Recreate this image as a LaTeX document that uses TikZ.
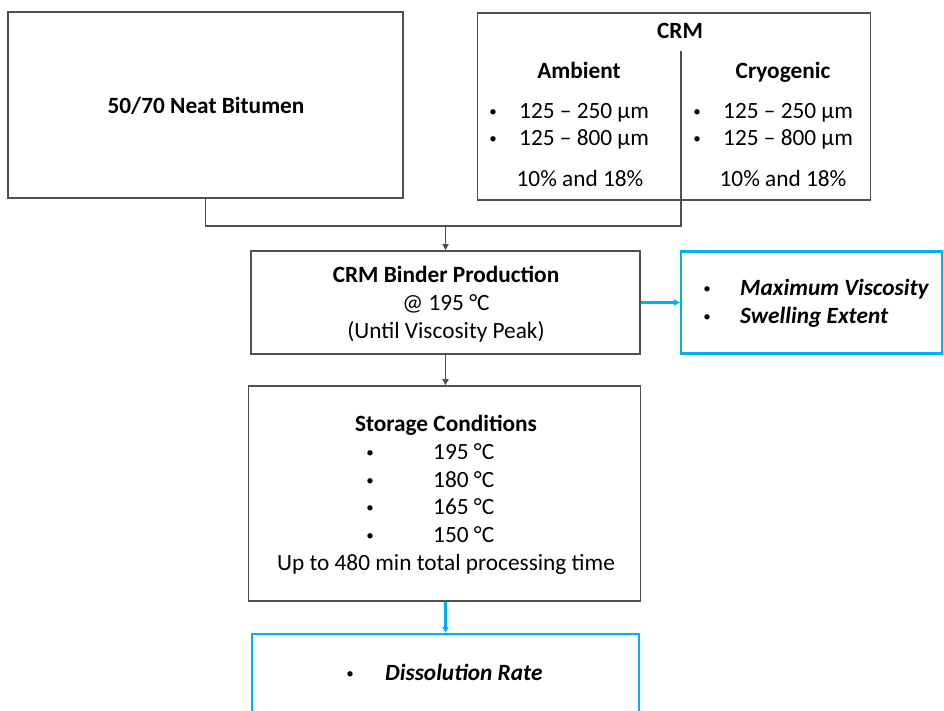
\documentclass[tikz,border=0pt]{standalone}
\usepackage{fontspec}
\setmainfont{Carlito}
\usetikzlibrary{arrows.meta,positioning}
\definecolor{boxgray}{RGB}{80,80,80}
\definecolor{skyblue}{RGB}{0,176,240}
\newcommand{\flowfont}{\fontsize{23.3}{28}\selectfont}

\begin{document}
\begin{tikzpicture}[x=1pt,y=-1pt,
  every node/.style={font=\flowfont,inner sep=0pt,text height=1.4em,text depth=0.1em},
  graybox/.style={draw=boxgray,line width=1.6pt,text height=,text depth=},
  bluebox/.style={draw=skyblue,line width=2.2pt,text height=,text depth=},
  dot/.style={font=\fontsize{15}{15}\selectfont,text height=,text depth=},
  grayarrow/.style={draw=boxgray,line width=1.6pt,-{Triangle[length=6pt,width=6pt]}},
  bluearrow/.style={draw=skyblue,line width=2.2pt,-{Triangle[length=6pt,width=6pt]}}]
  \clip (0,0) rectangle (944,711);
  % input boxes
  \node[graybox,minimum width=395pt,minimum height=186pt] (bitumen) at (205.5,105) {};
  \node[font=\flowfont\bfseries] (bitumentxt) at (206,107) {50/70 Neat Bitumen};
  \node[graybox,minimum width=393pt,minimum height=187pt] (crm) at (674,106.5) {};
  \node[font=\flowfont\bfseries] (crmtitle) at (680,32) {CRM};
  \node[font=\flowfont\bfseries] (ambient) at (579,72) {Ambient};
  \node[font=\flowfont\bfseries] (cryogenic) at (783,72) {Cryogenic};
  \node[dot] (ambdotA) at (493,113) {•};
  \node[anchor=west] (ambA) at (519,112) {125 -- 250 µm};
  \node[dot] (ambdotB) at (493,140) {•};
  \node[anchor=west] (ambB) at (519,139) {125 -- 800 µm};
  \node (ambpct) at (580,180) {10\% and 18\%};
  \node[dot] (crydotA) at (697,113) {•};
  \node[anchor=west] (cryA) at (723,112) {125 -- 250 µm};
  \node[dot] (crydotB) at (697,140) {•};
  \node[anchor=west] (cryB) at (723,139) {125 -- 800 µm};
  \node (crypct) at (783,180) {10\% and 18\%};
  % production step
  \node[graybox,minimum width=389pt,minimum height=103pt] (binder) at (445.5,302.5) {};
  \node[font=\flowfont\bfseries] (bindertitle) at (446,276) {CRM Binder Production};
  \node (bindertemp) at (446,304) {@ 195 °C};
  \node (binderpeak) at (446,332) {(Until Viscosity Peak)};
  \node[bluebox,minimum width=261pt,minimum height=102pt] (props) at (811.5,302.5) {};
  \node[dot] (propdotA) at (707,290) {•};
  \node[anchor=west,font=\flowfont\bfseries\itshape] (propA) at (740,289) {Maximum Viscosity};
  \node[dot] (propdotB) at (707,318) {•};
  \node[anchor=west,font=\flowfont\bfseries\itshape] (propB) at (740,317) {Swelling Extent};
  % storage step
  \node[graybox,minimum width=392pt,minimum height=215pt] (storage) at (444.5,493.5) {};
  \node[font=\flowfont\bfseries] (storetitle) at (446,425) {Storage Conditions};
  \foreach \t [count=\i] in {195,180,165,150} {
    \node[dot] (storedot\i) at (370,426+27.8*\i) {•};
    \node[anchor=west] (storet\i) at (433,425+27.8*\i) {\t\ °C};
  }
  \node (storetime) at (446,564) {Up to 480 min total processing time};
  \node[bluebox,minimum width=387pt,minimum height=110pt] (dissolve) at (445.5,689) {};
  \node[dot] (dissdot) at (350,675) {•};
  \node[anchor=west,font=\flowfont\bfseries\itshape] (disstxt) at (385,674) {Dissolution Rate};
  % connectors
  \coordinate (divtop) at (681,51);
  \coordinate (join) at (681,226);
  \coordinate (drop) at (binder.north |- join);
  \draw[boxgray,line width=1.6pt] (bitumen.south) |- (join) -- (divtop);
  \draw[grayarrow] (drop) -- (binder.north);
  \draw[grayarrow] (binder.south) -- (binder.south |- storage.north);
  \draw[bluearrow] (binder.east) -- (props.west);
  \draw[bluearrow] (binder.south |- storage.south) -- (binder.south |- dissolve.north);
\end{tikzpicture}
\end{document}
